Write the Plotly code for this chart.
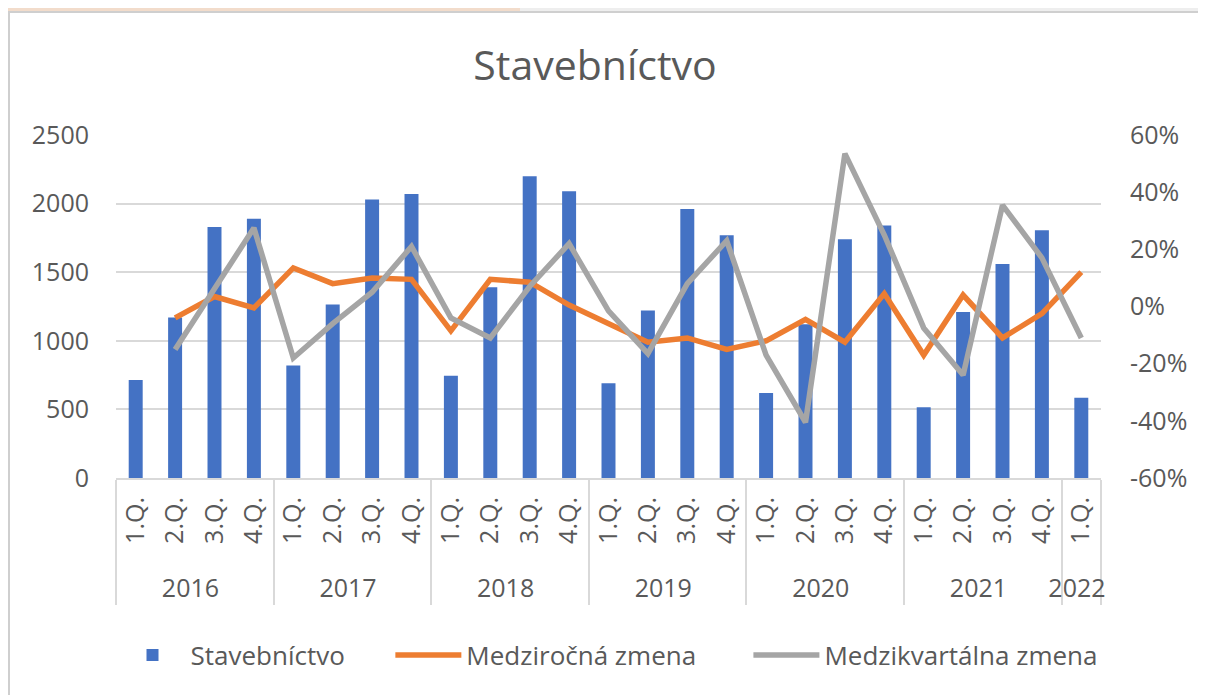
import plotly.graph_objects as go

# ---- data ----
years = ["2016"] * 4 + ["2017"] * 4 + ["2018"] * 4 + ["2019"] * 4 + ["2020"] * 4 + ["2021"] * 4 + ["2022"]
quarters = ["1.Q.", "2.Q.", "3.Q.", "4.Q."] * 6 + ["1.Q."]

stavebnictvo = [715, 1170, 1830, 1890,
                820, 1265, 2030, 2070,
                745, 1390, 2200, 2090,
                690, 1220, 1960, 1770,
                620, 1120, 1740, 1840,
                515, 1210, 1560, 1805,
                585]

medzirocna = [None, -0.04, 0.035, -0.005,
              0.135, 0.08, 0.10, 0.095,
              -0.085, 0.095, 0.085, 0.005,
              -0.06, -0.125, -0.11, -0.15,
              -0.12, -0.045, -0.125, 0.045,
              -0.17, 0.04, -0.11, -0.025,
              0.12]

medzikvartalna = [None, -0.15, 0.06, 0.275,
                  -0.18, -0.06, 0.05, 0.21,
                  -0.04, -0.11, 0.07, 0.22,
                  -0.015, -0.165, 0.08, 0.23,
                  -0.17, -0.405, 0.535, 0.25,
                  -0.075, -0.24, 0.355, 0.17,
                  -0.11]

left_ticks = [0, 500, 1000, 1500, 2000, 2500]
right_ticks = [-0.6, -0.4, -0.2, 0.0, 0.2, 0.4, 0.6]
right_ticktext = ["-60%", "-40%", "-20%", "0%", "20%", "40%", "60%"]

series_names = ["Stavebníctvo", "Medziročná zmena", "Medzikvartálna zmena"]

# ---- figure ----
FONT = "Open Sans, Liberation Sans, sans-serif"
TXT = "#595959"
GRID = "#d9d9d9"
NB = "\u00a0"

# page body has an 8px margin -> figure origin is at screen (8, 8)
OFF = 8
W, H = 1206 - OFF, 695 - OFF
# plot area in screen pixels: x 116..1101, y 135..478
L, R, T, B = 116 - OFF, 1101 - OFF, 135 - OFF, 478 - OFF
pw, ph = R - L, B - T


def sx(screen_x):
    return (screen_x - OFF - L) / pw


def sy(screen_y):
    return (B - (screen_y - OFF)) / ph


# leading non-breaking spaces give the rotated quarter labels a little more depth,
# which pushes the year row and dividers down as in the original
quarter_labels = [NB * 2 + q for q in quarters]
x = [years, quarter_labels]

fig = go.Figure()
fig.add_trace(go.Bar(x=x, y=stavebnictvo, name=series_names[0] + NB * 6,
                     marker=dict(color="#4472C4", line=dict(width=0)), yaxis="y"))
fig.add_trace(go.Scatter(x=x, y=medzirocna, name=series_names[1] + NB * 7, mode="lines",
                         line=dict(color="#ED7D31", width=5.5), yaxis="y2"))
fig.add_trace(go.Scatter(x=x, y=medzikvartalna, name=series_names[2], mode="lines",
                         line=dict(color="#A5A5A5", width=5.5), yaxis="y2"))

fig.update_layout(
    width=W, height=H,
    margin=dict(l=L, r=W - R, t=T, b=H - B),
    paper_bgcolor="#f2dccb",
    plot_bgcolor="white",
    bargap=0.645,
    font=dict(family=FONT, color=TXT, size=25),
    title=dict(text="Stavebníctvo", x=sx(595), xanchor="center", xref="paper",
               y=1 - (66 - OFF) / H, yanchor="middle",
               font=dict(family=FONT, size=41, color=TXT)),
    showlegend=True,
    legend=dict(orientation="h", x=0.5, xanchor="center", y=sy(655), yanchor="middle",
                font=dict(family=FONT, size=26, color=TXT), itemwidth=66,
                bgcolor="rgba(0,0,0,0)", traceorder="normal"),
    xaxis=dict(type="multicategory", tickangle=-90, showgrid=False,
               showline=True, linecolor=GRID, linewidth=2,
               showdividers=True, dividercolor=GRID, dividerwidth=2,
               ticks="", ticklabelstandoff=7,
               tickfont=dict(size=25, color=TXT, family=FONT)),
    yaxis=dict(range=[0, 2500], tickvals=left_ticks, showgrid=True, gridcolor=GRID,
               gridwidth=2, zeroline=False, showline=False, ticks="",
               ticklabelstandoff=26, tickfont=dict(size=25, color=TXT, family=FONT)),
    yaxis2=dict(range=[-0.6, 0.6], tickvals=right_ticks, ticktext=right_ticktext,
                overlaying="y", side="right", showgrid=False, zeroline=False,
                showline=False, ticks="", ticklabelstandoff=28,
                tickfont=dict(size=25, color=TXT, family=FONT)),
    shapes=[
        # light strip on top-right of the screenshot frame
        dict(type="rect", xref="paper", yref="paper", layer="below",
             x0=sx(520), x1=sx(1230), y0=sy(12), y1=sy(0),
             fillcolor="#eeeeee", line=dict(width=0)),
        # white chart panel
        dict(type="rect", xref="paper", yref="paper", layer="below",
             x0=sx(9), x1=sx(1230), y0=sy(720), y1=sy(12),
             fillcolor="white", line=dict(color="#cfcfcf", width=2)),
    ],
)

fig.write_html("out.html")
